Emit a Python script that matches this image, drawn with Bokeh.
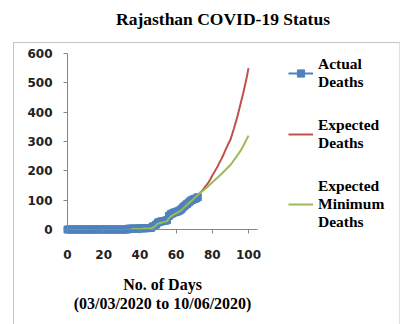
from bokeh.plotting import figure
from bokeh.models import (Range1d, FixedTicker, Legend, LegendItem,
                          InlineStyleSheet, Label)
from bokeh.embed import file_html
from bokeh.resources import INLINE

# ---- data ----
actual_days = list(range(0, 73))
actual_deaths = [0, 0, 0, 0, 0, 0, 0, 0, 0, 0,
                 0, 0, 0, 0, 0, 0, 0, 0, 0, 0,
                 0, 0, 0, 0, 0, 0, 0, 0, 0, 0,
                 0, 0, 0, 0, 3, 3, 3, 3, 3, 3,
                 4, 4, 4, 4, 5, 5, 5, 10, 12, 17,
                 24, 26, 28, 29, 30, 32, 46, 52, 55, 58,
                 60, 62, 65, 70, 77, 82, 87, 92, 98, 101,
                 104, 106, 110]

min_days = list(range(35, 101))
expected_min_deaths = [2, 2, 2, 2, 2, 2, 2, 3, 3, 3,
                       3, 4, 6, 9, 15, 20, 22, 24, 25, 27,
                       28, 38, 44, 48, 52, 55, 58, 62, 66, 72,
                       78, 84, 90, 95, 100, 106, 112, 118, 124, 128,
                       133, 138, 143, 149, 155, 161, 166, 172, 177, 183,
                       189, 195, 201, 208, 214, 220, 228, 237, 245, 254,
                       263, 273, 284, 296, 308, 320]

exp_days = list(range(72, 101))
expected_deaths = [118, 124, 130, 137, 145, 153, 162, 172, 184, 194,
                   205, 216, 228, 240, 253, 267, 281, 294, 306, 325,
                   345, 366, 389, 413, 438, 463, 490, 518, 550]

x_ticks = [0, 20, 40, 60, 80, 100]
y_ticks = [0, 100, 200, 300, 400, 500, 600]

title_text = "Rajasthan COVID-19 Status"
x_title = "No. of Days\n(03/03/2020 to 10/06/2020)"
labels = ["Actual\nDeaths", "Expected\nDeaths", "Expected\nMinimum\nDeaths"]

BLUE = "#4F81BD"
RED = "#C0504D"
GREEN = "#9BBB59"
SERIF = "Liberation Serif"
SANS = "DejaVu Sans"

W, H = 400, 322
# The frame covers the whole chart (title, axes, legend); both axes are
# pinned at 0 and limited to their data extents.
p = figure(width=W, height=H, output_backend="svg", toolbar_location=None,
           x_range=Range1d(-37.02, 181.77), y_range=Range1d(-317.05, 780.68),
           min_border_left=0, min_border_right=4, min_border_top=0,
           min_border_bottom=0)
p.outline_line_color = None
p.xgrid.visible = False
p.ygrid.visible = False
p.background_fill_color = "white"
p.border_fill_color = "white"

# chart border (light grey frame around plot + legend, below the title)
p.stylesheets = [InlineStyleSheet(css="""
:host::after {
  content: "";
  position: absolute;
  left: 13px; top: 42px; width: 385px; height: 320px;
  border-left: 1px solid #c4c4c4; border-top: 1px solid #c4c4c4;
  border-right: 1px solid #e0e0e0;
  pointer-events: none;
}
""")]

# axes
for ax in (p.xaxis[0], p.yaxis[0]):
    ax.axis_line_color = "#868686"
    ax.major_tick_line_color = "#868686"
    ax.minor_tick_line_color = None
    ax.major_tick_in = 0
    ax.major_tick_out = 4
    ax.major_label_text_font = SANS
    ax.major_label_text_font_size = "12px"
    ax.major_label_text_font_style = "bold"
    ax.major_label_text_color = "#222222"

p.xaxis.ticker = FixedTicker(ticks=x_ticks)
p.yaxis.ticker = FixedTicker(ticks=y_ticks)
p.xaxis.fixed_location = 0
p.yaxis.fixed_location = 0
p.xaxis.bounds = (0, 105)
p.yaxis.bounds = (0, 600)
p.xaxis.major_label_standoff = 17
p.yaxis.major_label_standoff = 11

# chart title
p.add_layout(Label(x=85.9, y=719.3, text=title_text, text_align="center",
                   text_baseline="middle", text_font=SERIF,
                   text_font_size="17.5px", text_font_style="bold",
                   text_color="black"))

# x axis title, centred under the 0..105 axis
p.add_layout(Label(x=52.5, y=-158.8, text=x_title, text_align="center",
                   text_baseline="top", text_font=SERIF,
                   text_font_size="16px", text_font_style="bold",
                   text_color="black", text_line_height=1.1))

# series
r_al = p.line(actual_days, actual_deaths, line_color=BLUE, line_width=2)
r_am = p.scatter(actual_days, actual_deaths, marker="square", size=7,
                 fill_color=BLUE, line_color=BLUE)
r_red = p.line(exp_days, expected_deaths, line_color=RED, line_width=2)
r_grn = p.line(min_days, expected_min_deaths, line_color=GREEN, line_width=2)

legend = Legend(items=[LegendItem(label=labels[0], renderers=[r_al, r_am]),
                       LegendItem(label=labels[1], renderers=[r_red]),
                       LegendItem(label=labels[2], renderers=[r_grn])],
                location=(288, 91.5), border_line_color=None,
                background_fill_alpha=0, padding=0, margin=0, spacing=25,
                glyph_width=25, glyph_height=18, label_height=18,
                label_standoff=5,
                label_text_font=SERIF, label_text_font_size="15.5px",
                label_text_font_style="bold", label_text_color="black")
p.add_layout(legend, "center")

open("out.html", "w").write(file_html(p, INLINE))
